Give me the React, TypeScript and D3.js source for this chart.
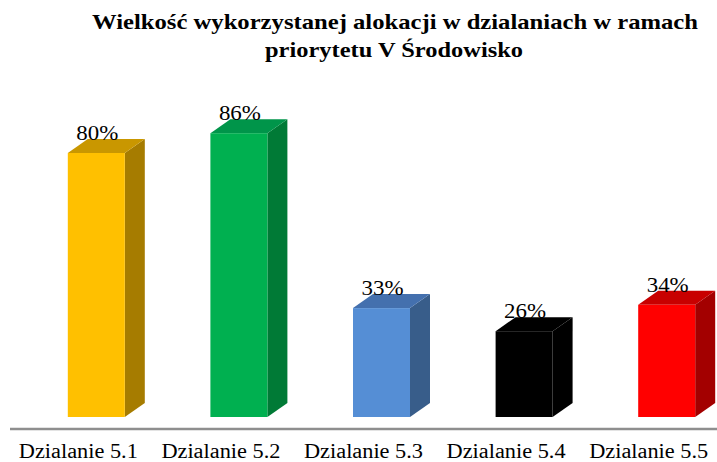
import React from "react";
import * as d3 from "d3";

const categories = ["Dzialanie 5.1", "Dzialanie 5.2", "Dzialanie 5.3", "Dzialanie 5.4", "Dzialanie 5.5"];
const values = [80, 86, 33, 26, 34];
const valueLabels = ["80%", "86%", "33%", "26%", "34%"];
const frontColors = ["#FFC000", "#00B050", "#558ED5", "#000000", "#FF0000"];
const topColors = ["#C99700", "#00954A", "#4470AE", "#000000", "#C80000"];
const sideColors = ["#A67C00", "#007A36", "#385D8A", "#000000", "#A30000"];
const titleLines = ["Wielkość wykorzystanej alokacji w dzialaniach w ramach", "priorytetu V Środowisko"];

const W = 717;
const H = 462;
const DX = 20;
const DY = 14;
const BAR_W = 57;
const BAR_OFFSET = 18;
const SERIF = "Liberation Serif, DejaVu Serif, serif";

export default function App() {
  const x = d3.scaleBand<string>().domain(categories).range([7, 720]);
  const y = d3.scaleLinear().domain([0, 100]).range([417, 87]);
  const base = y(0);

  return (
    <svg width={W} height={H} style={{ position: "absolute", left: 0, top: 0, background: "#fff" }}>
      <rect x={0} y={0} width={W} height={H} fill="#fff" />
      <text x={395} y={29} textAnchor="middle" style={{ fontFamily: SERIF, fontWeight: "bold", fontSize: "22px" }} textLength={606} lengthAdjust="spacingAndGlyphs" fill="#000">
        {titleLines[0]}
      </text>
      <text x={394} y={57} textAnchor="middle" style={{ fontFamily: SERIF, fontWeight: "bold", fontSize: "22px" }} textLength={258} lengthAdjust="spacingAndGlyphs" fill="#000">
        {titleLines[1]}
      </text>
      <line x1={10} x2={717} y1={429} y2={429} stroke="#8E8E8E" strokeWidth={2.5} />
      {categories.map((c, i) => {
        const cx = (x(c) as number) + x.bandwidth() / 2;
        const fc = cx + BAR_OFFSET;
        const xl = fc - BAR_W / 2;
        const xr = fc + BAR_W / 2;
        const top = y(values[i]);
        return (
          <g key={c}>
            <polygon points={`${xr},${top} ${xr + DX},${top - DY} ${xr + DX},${base - DY} ${xr},${base}`} fill={sideColors[i]} />
            <polygon points={`${xl},${top} ${xl + DX},${top - DY} ${xr + DX},${top - DY} ${xr},${top}`} fill={topColors[i]} />
            <rect x={xl} y={top} width={BAR_W} height={base - top} fill={frontColors[i]} />
            <text x={fc + 1} y={top - DY + 1} textAnchor="middle" style={{ fontFamily: SERIF, fontSize: "22px" }} textLength={42} lengthAdjust="spacingAndGlyphs" fill="#000">
              {valueLabels[i]}
            </text>
            <text x={cx} y={458} textAnchor="middle" style={{ fontFamily: SERIF, fontSize: "20px" }} textLength={119} lengthAdjust="spacingAndGlyphs" fill="#000">
              {c}
            </text>
          </g>
        );
      })}
    </svg>
  );
}
